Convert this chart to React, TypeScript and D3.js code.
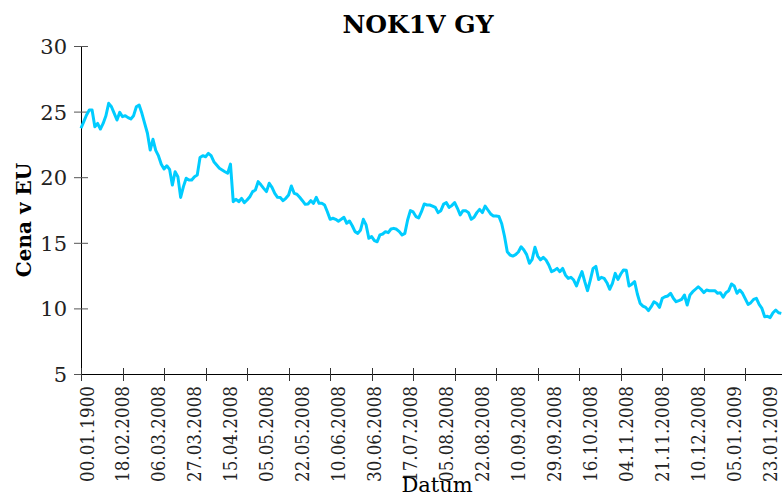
import React from "react";
import * as d3 from "d3";

const title = "NOK1V GY";
const yAxisTitle = "Cena v EU";
const xAxisTitle = "Datum";

const dateLabels = [
  "00.01.1900", "18.02.2008", "06.03.2008", "27.03.2008", "15.04.2008",
  "05.05.2008", "22.05.2008", "10.06.2008", "30.06.2008", "17.07.2008",
  "05.08.2008", "22.08.2008", "10.09.2008", "29.09.2008", "16.10.2008",
  "04.11.2008", "21.11.2008", "10.12.2008", "05.01.2009", "23.01.2009",
];
const labelEvery = 13;
const tickEvery = 15;
const yTicks = [5, 10, 15, 20, 25, 30];

const prices = [
  23.73, 24.23, 24.74, 25.12, 25.12, 23.85, 24.1, 23.67, 24.1, 24.68,
  25.63, 25.37, 24.87, 24.36, 24.94, 24.61, 24.69, 24.54, 24.44, 24.69,
  25.37, 25.5, 24.87, 24.1, 23.35, 22.07, 22.89, 22.05, 21.62, 20.98,
  20.62, 20.87, 20.6, 19.4, 20.42, 20.04, 18.46, 19.28, 19.92, 19.79,
  19.79, 20.04, 20.17, 21.5, 21.64, 21.56, 21.82, 21.64, 21.18, 20.93,
  20.68, 20.55, 20.42, 20.3, 21.0, 18.13, 18.32, 18.13, 18.39, 18.06,
  18.26, 18.51, 18.9, 19.02, 19.66, 19.42, 19.15, 18.9, 19.54, 19.23,
  18.77, 18.47, 18.45, 18.21, 18.39, 18.64, 19.33, 18.77, 18.7, 18.47,
  18.21, 17.93, 17.96, 18.21, 18.01, 18.47, 18.01, 18.01, 17.88, 17.37,
  16.79, 16.87, 16.79, 16.65, 16.79, 16.94, 16.49, 16.66, 16.3, 15.85,
  15.72, 15.98, 16.79, 16.36, 15.34, 15.47, 15.16, 15.08, 15.6, 15.67,
  15.85, 15.77, 16.05, 16.1, 16.03, 15.85, 15.59, 15.72, 16.74, 17.45,
  17.35, 17.0, 16.9, 17.37, 17.96, 17.88, 17.88, 17.8, 17.7, 17.3,
  17.45, 17.95, 18.06, 17.7, 17.85, 18.06, 17.63, 17.12, 17.45, 17.45,
  17.3, 16.79, 16.94, 17.3, 17.55, 17.3, 17.8, 17.5, 17.2, 17.04,
  17.04, 17.0, 16.45, 15.5, 14.32, 14.07, 13.99, 14.1, 14.3, 14.7,
  14.45, 14.1, 13.44, 13.74, 14.66, 13.99, 13.7, 13.89, 13.69, 13.31,
  12.8, 12.9, 13.05, 12.8, 13.05, 12.55, 12.29, 12.37, 12.16, 11.71,
  12.3, 12.8, 12.04, 11.35, 12.16, 13.05, 13.2, 12.2, 12.37, 12.29,
  11.96, 11.46, 11.91, 12.67, 12.21, 12.62, 12.93, 12.9, 11.71, 11.85,
  12.04, 11.1, 10.38, 10.18, 10.08, 9.83, 10.13, 10.51, 10.38, 10.08,
  10.77, 10.89, 10.95, 11.15, 10.77, 10.51, 10.59, 10.69, 11.02, 10.26,
  11.02, 11.27, 11.46, 11.65, 11.46, 11.2, 11.4, 11.35, 11.35, 11.35,
  11.15, 11.2, 10.85, 11.2, 11.35, 11.86, 11.71, 11.15, 11.4, 11.15,
  10.73, 10.3, 10.44, 10.69, 10.77, 10.3, 10.0, 9.37, 9.4, 9.3,
  9.67, 9.88, 9.67, 9.62,
];

const W = 782;
const H = 495;
const FONT = "'DejaVu Serif', serif";

export default function App() {
  const n = prices.length;
  const x = d3.scaleLinear().domain([0, n - 1]).range([81, 781.3]);
  const y = d3.scaleLinear().domain([5, 30]).range([374, 46]);

  const line = d3
    .line<number>()
    .x((_, i) => x(i))
    .y((d) => y(d));

  const xTickIdx = d3.range(0, n, tickEvery);
  const xLabelIdx = dateLabels.map((_, i) => i * labelEvery);

  return (
    <svg
      width={W}
      height={H}
      style={{ position: "absolute", left: 0, top: 0, background: "#fff" }}
      fontFamily={FONT}
    >
      <rect x={0} y={0} width={W} height={H} fill="#fff" />
      {/* title */}
      <text x={418} y={33} textAnchor="middle" fontSize={25} fontWeight="bold" fill="#000">
        {title}
      </text>
      {/* y axis title */}
      <text
        transform={`translate(31,${220}) rotate(-90)`}
        textAnchor="middle"
        fontSize={20}
        fontWeight="bold"
        fill="#000"
      >
        {yAxisTitle}
      </text>

      {/* y axis */}
      <line x1={81.5} x2={81.5} y1={y(30)} y2={y(5)} stroke="#000" strokeWidth={1} />
      {yTicks.map((t) => (
        <g key={t}>
          <line x1={74} x2={88} y1={y(t) + 0.5} y2={y(t) + 0.5} stroke="#555" strokeWidth={1} />
          <text x={67} y={y(t) + 8} textAnchor="end" fontSize={21} fill="#222">
            {t}
          </text>
        </g>
      ))}

      {/* x axis */}
      <line x1={81} x2={782} y1={374.5} y2={374.5} stroke="#000" strokeWidth={1} />
      {xTickIdx.map((i) => (
        <line
          key={i}
          x1={Math.round(x(i)) + 0.5}
          x2={Math.round(x(i)) + 0.5}
          y1={368}
          y2={381}
          stroke="#333"
          strokeWidth={1}
        />
      ))}
      {xLabelIdx.map((i, k) => (
        <text
          key={k}
          transform={`translate(${x(i) + 12.5},386) rotate(-90)`}
          textAnchor="end"
          fontSize={18}
          textLength={96}
          lengthAdjust="spacingAndGlyphs"
          fill="#222"
        >
          {dateLabels[k]}
        </text>
      ))}

      {/* x axis title */}
      <text x={437} y={492} textAnchor="middle" fontSize={21} fill="#000">
        {xAxisTitle}
      </text>

      {/* series */}
      <path
        d={line(prices) || ""}
        fill="none"
        stroke="#00CCFF"
        strokeWidth={3}
        strokeLinejoin="round"
      />
    </svg>
  );
}
